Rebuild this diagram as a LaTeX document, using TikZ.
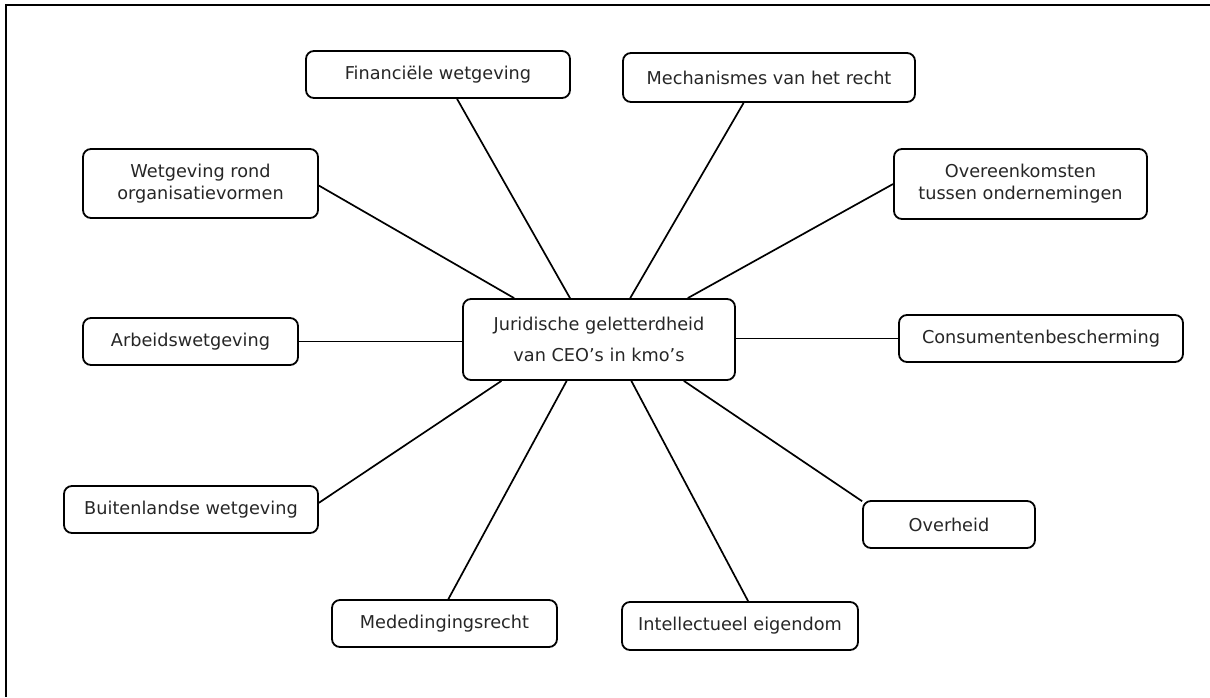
\documentclass[tikz,border=0pt]{standalone}
\usepackage{fontspec}
\setmainfont{DejaVu Sans}
\usepackage{tikz}

\begin{document}
\begin{tikzpicture}[x=1pt,y=-1pt,
  box/.style={draw,line width=1.8pt,rounded corners=8pt,align=center,inner sep=0pt,
    font=\fontsize{17.7}{22}\selectfont,text=black!85},
  link/.style={line width=1.7pt}]
\useasboundingbox (0,0) rectangle (1210,697);
\draw[line width=2.6pt] (1210,5) -- (6,5) -- (6,697);

\node[box,minimum width=272,minimum height=81] (cen) at (599,339.5)
  {Juridische geletterdheid\\[9pt]van CEO’s in kmo’s};

\node[box,minimum width=264,minimum height=47] (fin) at (438,74.5) {Financiële wetgeving};
\node[box,minimum width=292,minimum height=49] (mech) at (769,77.5) {Mechanismes van het recht};
\node[box,minimum width=235,minimum height=69] (org) at (200.5,183.5) {Wetgeving rond\\organisatievormen};
\node[box,minimum width=253,minimum height=70] (ovk) at (1020.5,184) {Overeenkomsten\\tussen ondernemingen};
\node[box,minimum width=215,minimum height=47] (arb) at (190.5,341.5) {Arbeidswetgeving};
\node[box,minimum width=284,minimum height=47] (cons) at (1041,338.5) {Consumentenbescherming};
\node[box,minimum width=254,minimum height=47] (buit) at (191,509.5) {Buitenlandse wetgeving};
\node[box,minimum width=172,minimum height=47] (ovh) at (949,524.5) {Overheid};
\node[box,minimum width=225,minimum height=47] (mede) at (444.5,623.5) {Mededingingsrecht};
\node[box,minimum width=236,minimum height=48] (ie) at (740,626) {Intellectueel eigendom};

\draw[link] (fin.-52) -- (cen.125);
\draw[link] (mech.-135) -- (cen.53);
\draw[link] (org.-1) -- (cen.154);
\draw[link] (ovk.west) -- (cen.25);
\draw[link] (arb.east) -- (arb.east -| cen.west);
\draw[link] (cons.west -| cen.east) -- (cons.west);
\draw[link] (buit.3) -- (cen.-157);
\draw[link] (ovh.165) -- (cen.-26);
\draw[link] (mede.81) -- (cen.-128);
\draw[link] (ie.72) -- (cen.-52);
\end{tikzpicture}
\end{document}
